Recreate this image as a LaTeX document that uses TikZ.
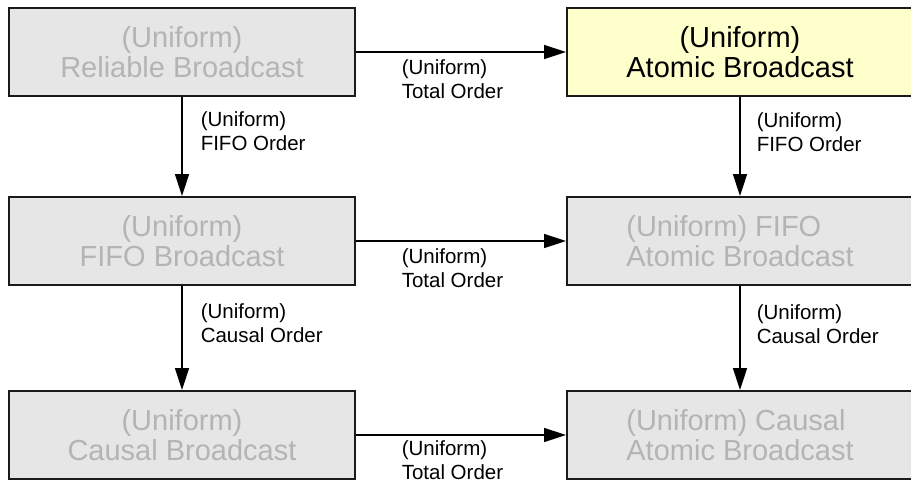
\documentclass[tikz,border=0pt]{standalone}
\usepackage{fontspec}
\setmainfont{Liberation Sans}
\usetikzlibrary{positioning,arrows.meta}
\definecolor{boxgray}{RGB}{230,230,230}
\definecolor{txtgray}{RGB}{180,180,180}
\definecolor{boxyellow}{RGB}{255,255,204}
\definecolor{edgeblack}{RGB}{26,26,26}
\tikzset{
  bcast/.style = {shape=rectangle, draw=edgeblack, line width=2pt,
                  fill=boxgray, text=txtgray, align=center,
                  minimum width=346pt, minimum height=88pt, inner sep=0pt,
                  font=\fontsize{29}{30}\selectfont},
  goal/.style  = {bcast, fill=boxyellow, text=black},
  wrapped/.style = {bcast, align=left},
  prop/.style  = {align=left, inner sep=0pt, text=black,
                  font=\fontsize{20.5}{24}\selectfont}
}

\begin{document}
\begin{tikzpicture}[x=1pt,y=-1pt,->,>={Triangle[length=22pt,width=14pt]},line width=1.5pt]
\useasboundingbox (0,0) rectangle (911,482);
\clip (0,0) rectangle (911,482);
% broadcast boxes
\node [bcast] (rb) at (182,52) {(Uniform)\\Reliable Broadcast};
\node [goal, right=210pt of rb] (ab) {(Uniform)\\Atomic Broadcast};
\node [bcast, below=99pt of rb] (fb) {(Uniform)\\FIFO Broadcast};
\node [wrapped, below=99pt of ab] (fab) {(Uniform) FIFO\\Atomic Broadcast};
\node [bcast, below=104pt of fb] (cb) {(Uniform)\\Causal Broadcast};
\node [wrapped, below=104pt of fab] (cab) {(Uniform) Causal\\Atomic Broadcast};
% total order
\draw (rb) -- node [prop, pos=0, below right=6.5pt and 45pt] {(Uniform)\\Total Order} (ab);
\draw (fb) -- node [prop, pos=0, below right=6.5pt and 45pt] {(Uniform)\\Total Order} (fab);
\draw (cb) -- node [prop, pos=0, below right=4.5pt and 45pt] {(Uniform)\\Total Order} (cab);
% fifo and causal order
\draw (rb) -- node [prop, pos=0, below right=14pt and 18pt] {(Uniform)\\FIFO Order} (fb);
\draw (ab) -- node [prop, pos=0, below right=15pt and 16pt] {(Uniform)\\FIFO Order} (fab);
\draw (fb) -- node [prop, pos=0, below right=17pt and 18pt] {(Uniform)\\Causal Order} (cb);
\draw (fab) -- node [prop, pos=0, below right=18pt and 16pt] {(Uniform)\\Causal Order} (cab);
\end{tikzpicture}
\end{document}
